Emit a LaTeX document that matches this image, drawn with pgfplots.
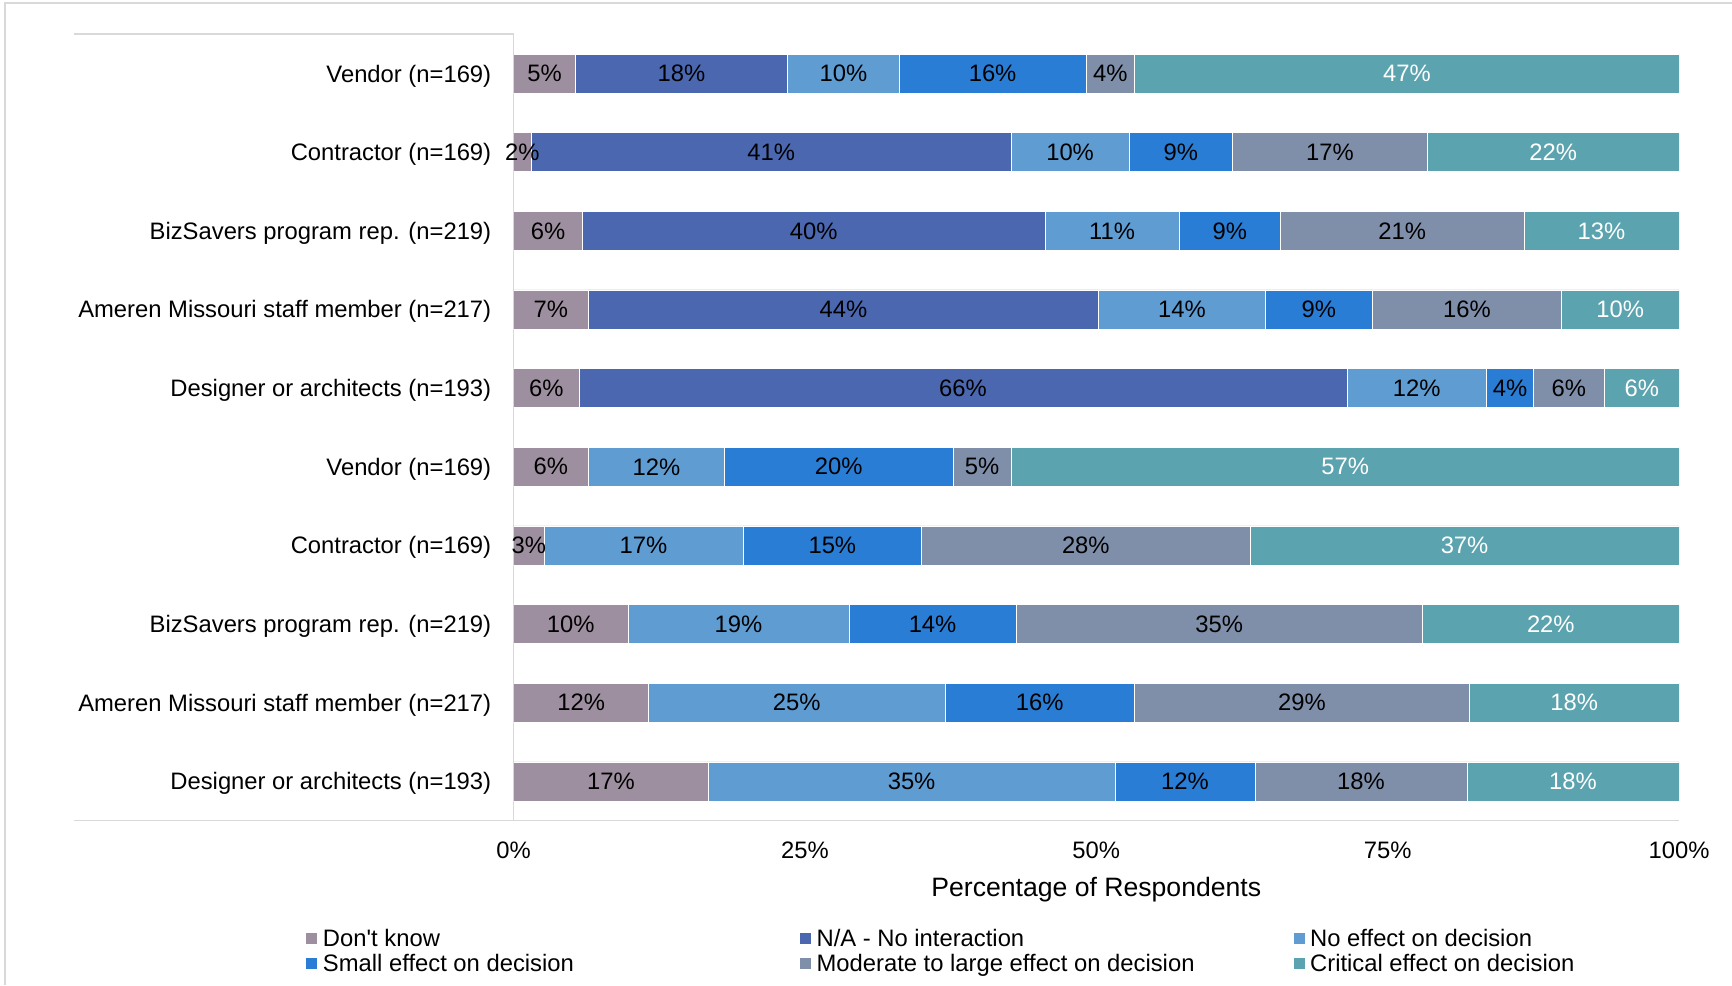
\documentclass[border=0pt]{standalone}
\usepackage{fontspec}
\setmainfont{Liberation Sans}[Ligatures=TeXOff]
\usepackage{pgfplots}
\usepackage{pgfplotstable}
\pgfplotsset{compat=1.18}
\definecolor{cdk}{HTML}{9E8FA0}
\definecolor{cna}{HTML}{4A67AF}
\definecolor{cno}{HTML}{5F9CD2}
\definecolor{csm}{HTML}{2A7DD5}
\definecolor{cmod}{HTML}{7F8FAA}
\definecolor{ccr}{HTML}{5BA3AE}
\definecolor{cgrid}{HTML}{D9D9D9}
\pgfplotstableread{
y dk na no sm mod cr ldk lna lno lsm lmod lcr
0 5.3 18.2 9.6 16.0 4.2 46.7 5\% 18\% 10\% 16\% 4\% 47\%
1 1.5 41.2 10.1 8.9 16.7 21.6 2\% 41\% 10\% 9\% 17\% 22\%
2 5.9 39.7 11.5 8.7 20.9 13.3 6\% 40\% 11\% 9\% 21\% 13\%
3 6.4 43.8 14.3 9.2 16.2 10.1 7\% 44\% 14\% 9\% 16\% 10\%
4 5.6 65.9 12.0 4.0 6.1 6.4 6\% 66\% 12\% 4\% 6\% 6\%
5 6.4 0 11.7 19.6 5.0 57.3 6\% {} 12\% 20\% 5\% 57\%
6 2.6 0 17.1 15.3 28.2 36.8 3\% {} 17\% 15\% 28\% 37\%
7 9.8 0 19.0 14.3 34.9 22.0 10\% {} 19\% 14\% 35\% 22\%
8 11.6 0 25.4 16.3 28.7 18.0 12\% {} 25\% 16\% 29\% 18\%
9 16.7 0 34.9 12.0 18.2 18.2 17\% {} 35\% 12\% 18\% 18\%
}\datatable
\newcommand{\lgd}[1]{\makebox[240.5pt][l]{\hspace{2.5pt}#1}}
\pgfplotsset{
  frame/.style={
    at={(0pt,0pt)}, anchor=south west,
    scale only axis, width=582.7pt, height=393.25pt,
    xmin=0, xmax=100, ymin=-0.5, ymax=9.5, y dir=reverse,
  },
}
\begin{document}
\begin{tikzpicture}
\draw[cgrid, line width=0.75pt] (-254.3pt,-82.15pt) -- (-254.3pt,408.85pt) -- (609.2pt,408.85pt);
\draw[cgrid, line width=0.75pt] (-219.8pt,393.25pt) -- (0pt,393.25pt) -- (0pt,0pt);
\draw[cgrid, line width=0.75pt] (-219.8pt,0pt) -- (582.7pt,0pt);
\begin{axis}[
  frame,
  xbar stacked, bar width=19.5pt,
  axis line style={draw=none}, tick style={draw=none}, major tick length=0pt,
  xtick={0,25,50,75,100}, xticklabels={0\%,25\%,50\%,75\%,100\%},
  ytick={0,...,9},
  yticklabels={Vendor (n=169),Contractor (n=169),BizSavers program rep. (n=219),Ameren Missouri staff member (n=217),Designer or architects (n=193),Vendor (n=169),Contractor (n=169),BizSavers program rep. (n=219),Ameren Missouri staff member (n=217),Designer or architects (n=193)},
  tick label style={font=\fontsize{11.9pt}{14pt}\selectfont},
  xticklabel style={anchor=north, inner sep=0pt, yshift=-10.6pt},
  yticklabel style={anchor=base east, inner sep=0pt, xshift=-11pt, yshift=-4.25pt},
  xlabel={Percentage of Respondents},
  xlabel style={font=\fontsize{13.3pt}{16pt}\selectfont, at={(axis description cs:0.5,0)}, anchor=center, yshift=-34.4pt},
  legend columns=3,
  legend cell align=left,
  legend style={draw=none, fill=none, at={(axis description cs:-0.179,-0.1365)}, anchor=north west, font=\fontsize{11.9pt}{12.7pt}\selectfont, nodes={inner sep=0pt, text height=9pt, text depth=3.7pt}, row sep=0pt, column sep=0pt, inner sep=0pt},
  legend image code/.code={\fill[#1] (0pt,-1.5pt) rectangle (6pt,4.5pt);},
]
\addplot[fill=cdk, draw=white, line width=0.3pt] table[x=dk,y=y]{\datatable};
\addlegendentry{\lgd{Don't know}}
\addplot[fill=cna, draw=white, line width=0.3pt] table[x=na,y=y]{\datatable};
\addlegendentry{\lgd{N/A - No interaction}}
\addplot[fill=cno, draw=white, line width=0.3pt] table[x=no,y=y]{\datatable};
\addlegendentry{\lgd{No effect on decision}}
\addplot[fill=csm, draw=white, line width=0.3pt] table[x=sm,y=y]{\datatable};
\addlegendentry{\lgd{Small effect on decision}}
\addplot[fill=cmod, draw=white, line width=0.3pt] table[x=mod,y=y]{\datatable};
\addlegendentry{\lgd{Moderate to large effect on decision}}
\addplot[fill=ccr, draw=white, line width=0.3pt] table[x=cr,y=y]{\datatable};
\addlegendentry{\lgd{Critical effect on decision}}
\end{axis}
\begin{axis}[
  frame, hide axis,
  point meta=explicit symbolic,
  nodes near coords,
  every node near coord/.append style={font=\fontsize{11.9pt}{14pt}\selectfont, anchor=center, inner sep=0pt},
]
\addplot[only marks, mark=none] table[x expr={\thisrow{dk}/2}, y=y, meta=ldk]{\datatable};
\addplot[only marks, mark=none] table[x expr={\thisrow{dk}+\thisrow{na}/2}, y=y, meta=lna]{\datatable};
\addplot[only marks, mark=none] table[x expr={\thisrow{dk}+\thisrow{na}+\thisrow{no}/2}, y=y, meta=lno]{\datatable};
\addplot[only marks, mark=none] table[x expr={\thisrow{dk}+\thisrow{na}+\thisrow{no}+\thisrow{sm}/2}, y=y, meta=lsm]{\datatable};
\addplot[only marks, mark=none] table[x expr={\thisrow{dk}+\thisrow{na}+\thisrow{no}+\thisrow{sm}+\thisrow{mod}/2}, y=y, meta=lmod]{\datatable};
\addplot[only marks, mark=none, every node near coord/.append style={text=white}] table[x expr={\thisrow{dk}+\thisrow{na}+\thisrow{no}+\thisrow{sm}+\thisrow{mod}+\thisrow{cr}/2}, y=y, meta=lcr]{\datatable};
\end{axis}
\pgfresetboundingbox
\path[use as bounding box] (-256.8pt,-82.15pt) rectangle (609.2pt,410.35pt);
\end{tikzpicture}
\end{document}
